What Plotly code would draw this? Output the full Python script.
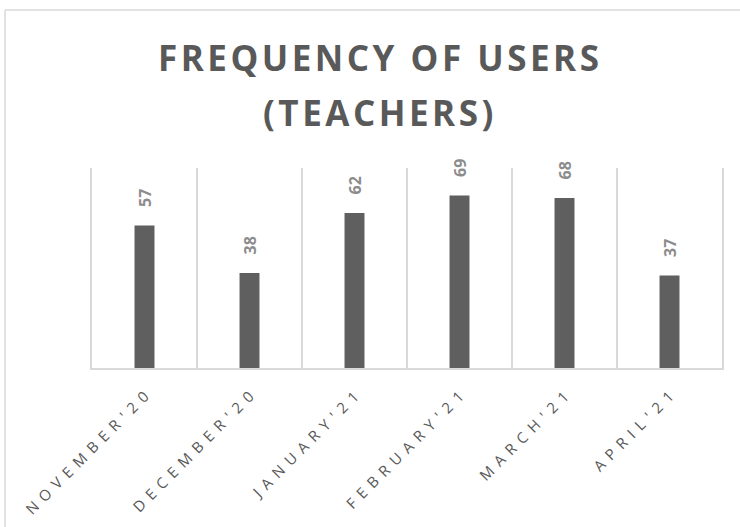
import plotly.graph_objects as go

categories = ["NOVEMBER'20", "DECEMBER'20", "JANUARY'21", "FEBRUARY'21", "MARCH'21", "APRIL'21"]
values = [57, 38, 62, 69, 68, 37]
title_lines = ["FREQUENCY OF USERS", "(TEACHERS)"]

SP = "\u2004\u200a"
tick_text = [SP.join(list(c)) for c in categories]
HS = "\u200a"

W, H = 740, 527
L, R, T, B = 92, 18, 168, 159
pw = W - L - R
ph = H - T - B
base_y = H - B

fig = go.Figure()
fig.add_trace(go.Bar(
    x=categories, y=values,
    width=0.19, marker=dict(color="#5f5f5f", line=dict(width=0)),
    hoverinfo="skip",
))

for c, v in zip(categories, values):
    fig.add_annotation(
        x=c, y=v, xref="x", yref="y", text=f"<b>{v}</b>", showarrow=False,
        textangle=-90, yshift=27, xanchor="center", yanchor="middle",
        font=dict(family="Open Sans", size=16, color="#8c8c8c"),
    )

# title lines (pixel centres of each line)
for line, yc in zip(title_lines, [58, 112]):
    fig.add_annotation(
        x=(378 - L) / pw, y=(base_y - yc) / ph, xref="paper", yref="paper",
        text="<b>" + HS.join(list(line)) + "</b>", showarrow=False,
        xanchor="center", yanchor="middle",
        font=dict(family="Open Sans", size=35, color="#595959"),
    )

# chart area border (top and left edges)
fig.add_shape(type="line", xref="paper", yref="paper",
              x0=(5 - L) / pw, x1=(W + 5 - L) / pw,
              y0=(base_y - 10) / ph, y1=(base_y - 10) / ph,
              line=dict(color="#d9d9d9", width=1.5))
fig.add_shape(type="line", xref="paper", yref="paper",
              x0=(5 - L) / pw, x1=(5 - L) / pw,
              y0=(base_y - 10) / ph, y1=-(B + 5) / ph,
              line=dict(color="#d9d9d9", width=1.5))

fig.update_layout(
    width=W, height=H,
    margin=dict(l=L, r=R, t=T, b=B, autoexpand=False),
    paper_bgcolor="white", plot_bgcolor="white",
    showlegend=False,
    xaxis=dict(
        type="category", categoryorder="array", categoryarray=categories,
        range=[-0.5, len(categories) - 0.5],
        tickmode="array", tickvals=categories, ticktext=tick_text,
        tickangle=-45, tickson="boundaries", ticks="", ticklabelstandoff=12,
        showgrid=True, gridcolor="#d9d9d9", gridwidth=1.5,
        showline=True, linecolor="#d9d9d9", linewidth=2,
        tickfont=dict(family="Open Sans", size=15, color="#595959"),
        zeroline=False, automargin=False,
    ),
    yaxis=dict(
        range=[0, 80], showgrid=False, showticklabels=False, zeroline=False,
        showline=True, mirror=True, linecolor="#d9d9d9", linewidth=1.5,
        automargin=False,
    ),
)

fig.write_html(
    "out.html",
    config={"displayModeBar": False},
    post_script="document.body.style.margin='0px';",
)
